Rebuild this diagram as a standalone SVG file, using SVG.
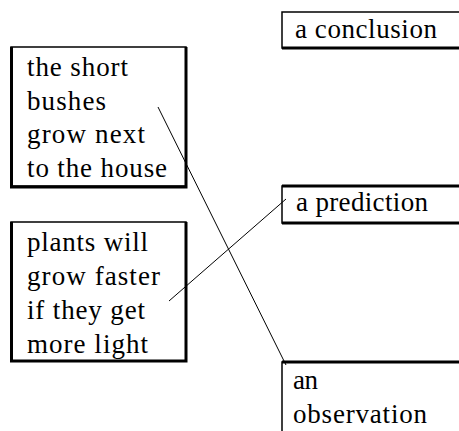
<svg xmlns="http://www.w3.org/2000/svg" width="459" height="431" viewBox="0 0 459 431">
<style>
text{font-family:"Liberation Serif","Times New Roman",serif;font-size:27px;fill:#000}
.box{fill:#fff;stroke:#000;stroke-width:1.5}
.sh{stroke:#000;stroke-width:3;fill:none}
.con{stroke:#000;stroke-width:1;fill:none}
</style>
<rect width="459" height="431" fill="#fff"/>
<g id="bushes">
<rect class="box" x="11" y="47" width="175" height="139"/>
<path class="sh" d="M11.5,47 V187 H186 V47"/>
<text x="27" y="76" textLength="101" lengthAdjust="spacing">the short</text>
<text x="27" y="110" textLength="79" lengthAdjust="spacing">bushes</text>
<text x="27" y="143" textLength="118" lengthAdjust="spacing">grow next</text>
<text x="27" y="177" textLength="140" lengthAdjust="spacing">to the house</text>
</g>
<g id="plants">
<rect class="box" x="11" y="222" width="175" height="139"/>
<path class="sh" d="M11.5,222 V361 H186 V222"/>
<text x="27" y="251" textLength="121" lengthAdjust="spacing">plants will</text>
<text x="27" y="285" textLength="133" lengthAdjust="spacing">grow faster</text>
<text x="27" y="319" textLength="118" lengthAdjust="spacing">if they get</text>
<text x="27" y="353" textLength="121" lengthAdjust="spacing">more light</text>
</g>
<g id="conclusion">
<rect class="box" x="282" y="12" width="200" height="36"/>
<path class="sh" d="M282,48 H460" stroke-width="2"/>
<text x="295" y="38" textLength="142" lengthAdjust="spacing">a conclusion</text>
</g>
<g id="prediction">
<rect class="box" x="282" y="186" width="200" height="37"/>
<path class="sh" d="M282,186 H460 M282,223 H460"/>
<text x="296" y="211" textLength="132" lengthAdjust="spacing">a prediction</text>
</g>
<g id="observation">
<rect class="box" x="282" y="362" width="200" height="80"/>
<path class="sh" d="M282,362 H460"/>
<text x="293" y="389" textLength="25" lengthAdjust="spacing">an</text>
<text x="293" y="423" textLength="134" lengthAdjust="spacing">observation</text>
</g>
<g id="connectors">
<line class="con" x1="158" y1="107" x2="286" y2="365"/>
<line class="con" x1="169" y1="301" x2="286" y2="199"/>
</g>
</svg>
